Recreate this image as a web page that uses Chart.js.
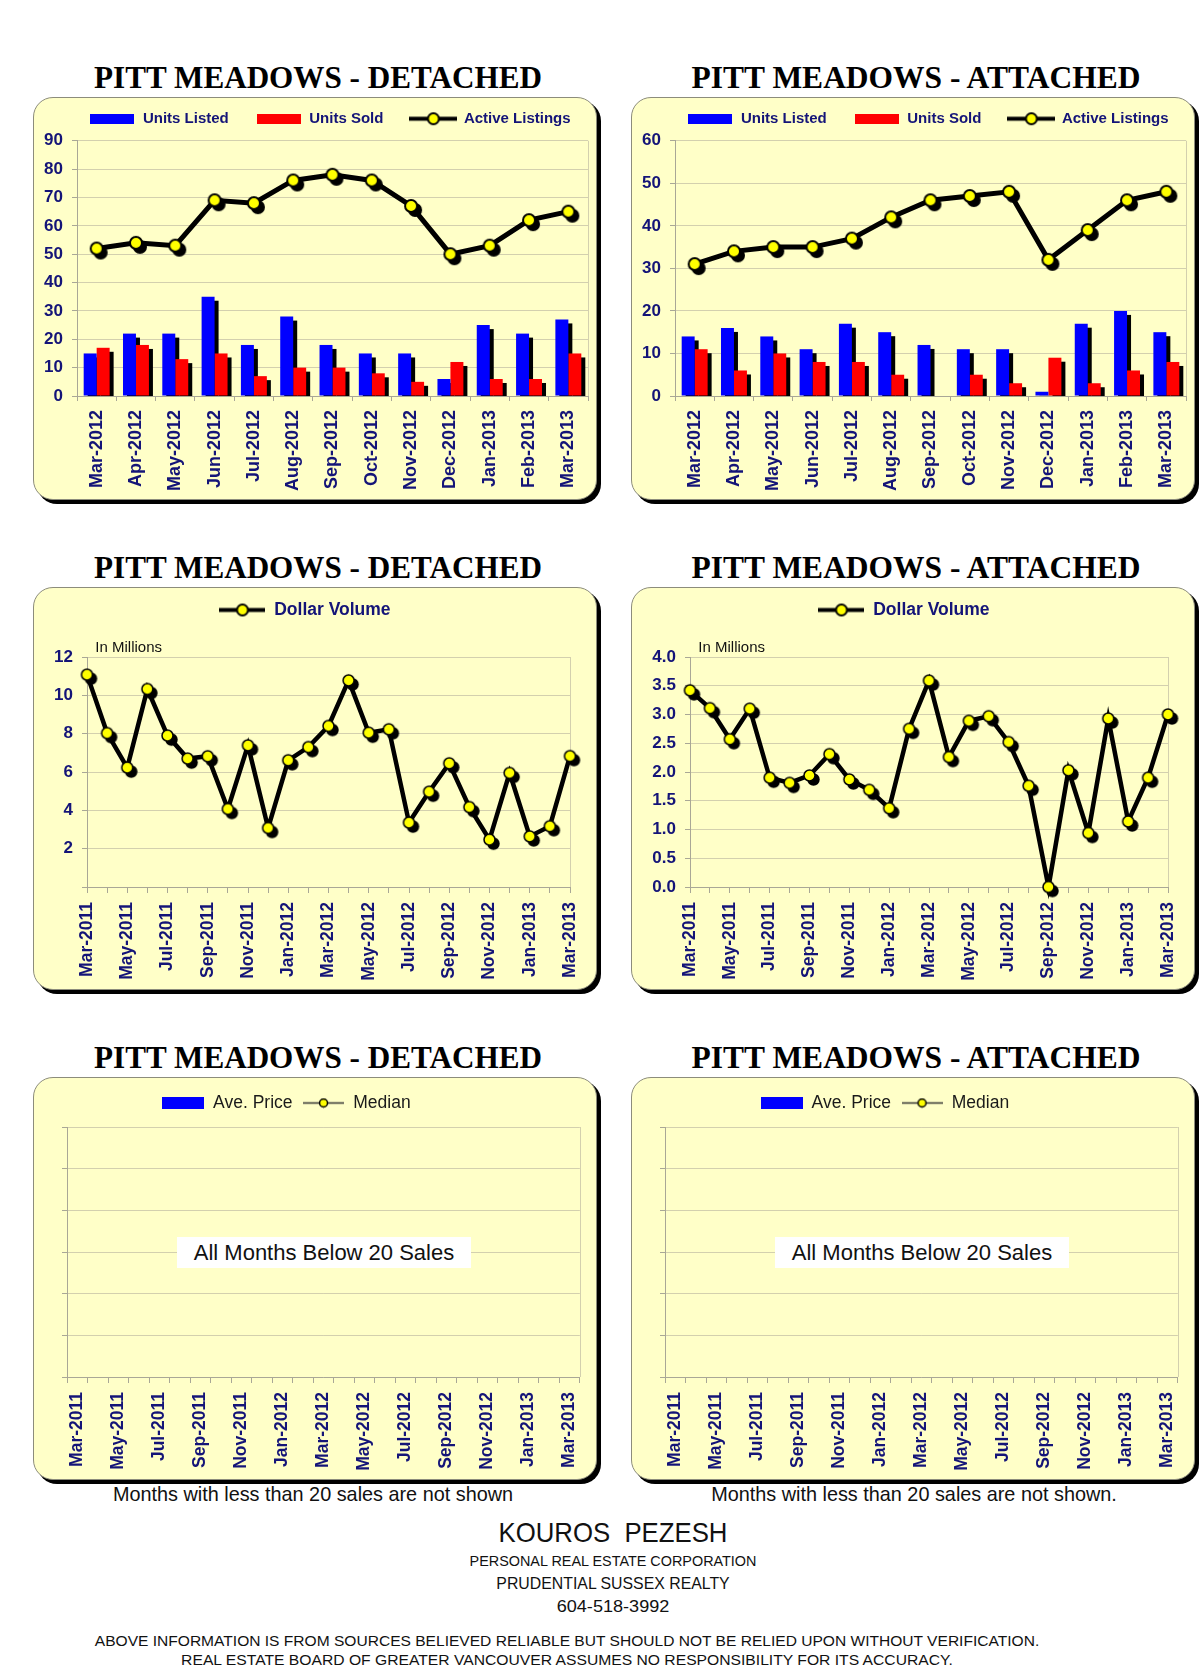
<!DOCTYPE html>
<html><head><meta charset="utf-8">
<script src="https://cdn.jsdelivr.net/npm/chart.js@4.4.1/dist/chart.umd.min.js"></script>
<style>
html,body{margin:0;padding:0;background:#fff;}
body{width:1200px;height:1673px;position:relative;overflow:hidden;font-family:"Liberation Sans",Arial,sans-serif;}
.panel{position:absolute;width:562px;height:401px;background:#FFFFC8;border:1px solid #8c8c7c;border-radius:20px;box-shadow:4px 4px 0 #000;z-index:0;}
canvas{position:absolute;z-index:1;}
.t{position:absolute;white-space:pre;line-height:1;transform:translate(-50%,-50%);}
.title{font-family:"Liberation Serif","Times New Roman",serif;font-weight:bold;font-size:31px;color:#000;}
.note{font-size:19.8px;color:#111;}
.box{position:absolute;width:294px;height:31px;background:#fff;font-size:22px;line-height:31px;text-align:center;color:#111;z-index:3;}
.foot{color:#111;}
</style></head><body>

<div class="t title" data-fit="448" style="left:318px;top:77px">PITT MEADOWS - DETACHED</div>
<div class="t title" data-fit="449" style="left:916px;top:77px">PITT MEADOWS - ATTACHED</div>
<div class="t title" data-fit="448" style="left:318px;top:567px">PITT MEADOWS - DETACHED</div>
<div class="t title" data-fit="449" style="left:916px;top:567px">PITT MEADOWS - ATTACHED</div>
<div class="t title" data-fit="448" style="left:318px;top:1057px">PITT MEADOWS - DETACHED</div>
<div class="t title" data-fit="449" style="left:916px;top:1057px">PITT MEADOWS - ATTACHED</div>

<div class="panel" style="left:33px;top:97px"></div>
<div class="panel" style="left:631px;top:97px"></div>
<div class="panel" style="left:33px;top:587px"></div>
<div class="panel" style="left:631px;top:587px"></div>
<div class="panel" style="left:33px;top:1077px"></div>
<div class="panel" style="left:631px;top:1077px"></div>

<canvas id="c1" width="568" height="406" style="left:32px;top:96px"></canvas>
<canvas id="c2" width="568" height="406" style="left:630px;top:96px"></canvas>
<canvas id="c3" width="568" height="406" style="left:32px;top:586px"></canvas>
<canvas id="c4" width="568" height="406" style="left:630px;top:586px"></canvas>
<canvas id="c5" width="568" height="406" style="left:32px;top:1076px"></canvas>
<canvas id="c6" width="568" height="406" style="left:630px;top:1076px"></canvas>

<div class="box" style="left:177px;top:1237px">All Months Below 20 Sales</div>
<div class="box" style="left:775px;top:1237px">All Months Below 20 Sales</div>

<div class="t note" data-fit="400" style="left:313px;top:1495px">Months with less than 20 sales are not shown</div>
<div class="t note" data-fit="406" style="left:914px;top:1495px">Months with less than 20 sales are not shown.</div>

<div class="t foot" data-fit="229" style="left:613px;top:1533px;font-size:28px">KOUROS  PEZESH</div>
<div class="t foot" data-fit="287" style="left:613px;top:1560px;font-size:15px">PERSONAL REAL ESTATE CORPORATION</div>
<div class="t foot" data-fit="233" style="left:613px;top:1583px;font-size:17px">PRUDENTIAL SUSSEX REALTY</div>
<div class="t foot" data-fit="113" style="left:613px;top:1607px;font-size:16px">604-518-3992</div>
<div class="t foot" data-fit="944" style="left:567px;top:1640px;font-size:15px">ABOVE INFORMATION IS FROM SOURCES BELIEVED RELIABLE BUT SHOULD NOT BE RELIED UPON WITHOUT VERIFICATION.</div>
<div class="t foot" data-fit="772" style="left:567px;top:1659px;font-size:15px">REAL ESTATE BOARD OF GREATER VANCOUVER ASSUMES NO RESPONSIBILITY FOR ITS ACCURACY.</div>

<script>
// ---------------- DATA ----------------
const unitMonths = ['Mar-2012','Apr-2012','May-2012','Jun-2012','Jul-2012','Aug-2012','Sep-2012','Oct-2012','Nov-2012','Dec-2012','Jan-2013','Feb-2013','Mar-2013'];
const detListed = [15, 22, 22, 35, 18, 28, 18, 15, 15, 6, 25, 22, 27];
const detSold   = [17, 18, 13, 15, 7, 10, 10, 8, 5, 12, 6, 6, 15];
const detActive = [52, 54, 53, 69, 68, 76, 78, 76, 67, 50, 53, 62, 65];
const attListed = [14, 16, 14, 11, 17, 15, 12, 11, 11, 1, 17, 20, 15];
const attSold   = [11, 6, 10, 8, 8, 5, 0, 5, 3, 9, 3, 6, 8];
const attActive = [31, 34, 35, 35, 37, 42, 46, 47, 48, 32, 39, 46, 48];

const volumeMonths = ['Mar-2011','Apr-2011','May-2011','Jun-2011','Jul-2011','Aug-2011','Sep-2011','Oct-2011','Nov-2011','Dec-2011',
  'Jan-2012','Feb-2012','Mar-2012','Apr-2012','May-2012','Jun-2012','Jul-2012','Aug-2012','Sep-2012','Oct-2012','Nov-2012','Dec-2012',
  'Jan-2013','Feb-2013','Mar-2013'];
const detVolume = [11.08, 8.03, 6.23, 10.33, 7.9, 6.7, 6.82, 4.07, 7.39, 3.08, 6.61, 7.3, 8.4, 10.78, 8.05, 8.23, 3.36, 4.97, 6.45, 4.17, 2.47, 5.95, 2.64, 3.17, 6.83];
const attVolume = [3.42, 3.11, 2.57, 3.1, 1.9, 1.81, 1.94, 2.31, 1.87, 1.69, 1.37, 2.75, 3.59, 2.26, 2.89, 2.97, 2.52, 1.76, 0.0, 2.03, 0.94, 2.93, 1.14, 1.9, 3.0];

// Price charts: every month below 20 sales, so nothing is plotted
const detAvePrice = [];
const detMedian = [];
const attAvePrice = [];
const attMedian = [];

const unitsTicksDet = [0, 90, 10];
const unitsTicksAtt = [0, 60, 10];
const volTicksDet = [0, 12, 2];
const volTicksAtt = [0, 4, 0.5];

// ---------------- STYLE ----------------
const NAVY = '#141478';
const GRID = '#D3D0AE';
const AXIS = '#A9A796';
const FONT = "'Liberation Sans', Arial, sans-serif";

function rectIcon(color, w, h) {
  const c = document.createElement('canvas'); c.width = w; c.height = h;
  const x = c.getContext('2d'); x.fillStyle = color; x.fillRect(0, 0, w, h); return c;
}
function lineIcon(w, h, lw, r, bw, lineColor) {
  const c = document.createElement('canvas'); c.width = w; c.height = h;
  const x = c.getContext('2d');
  x.strokeStyle = lineColor; x.lineWidth = lw;
  x.beginPath(); x.moveTo(0, h / 2); x.lineTo(w, h / 2); x.stroke();
  x.beginPath(); x.arc(w / 2, h / 2, r, 0, Math.PI * 2);
  x.fillStyle = '#FFFF00'; x.fill(); x.lineWidth = bw; x.strokeStyle = '#000'; x.stroke();
  return c;
}
// marker with its dark drop shadow
function shadowDot(r, bw, off) {
  const s = Math.ceil(2 * (r + bw / 2 + off) + 2);
  const c = document.createElement('canvas'); c.width = s; c.height = s;
  const x = c.getContext('2d'); const m = s / 2;
  x.fillStyle = '#000'; x.beginPath(); x.arc(m + off, m + off, r + bw / 2, 0, Math.PI * 2); x.fill();
  x.beginPath(); x.arc(m, m, r, 0, Math.PI * 2);
  x.fillStyle = '#FFFF00'; x.fill(); x.lineWidth = bw; x.strokeStyle = '#000'; x.stroke();
  return c;
}

const framePlugin = {
  id: 'frame',
  afterLayout(chart, args, opts) {
    if (opts.legendDx && chart.legend) { chart.legend.left += opts.legendDx; chart.legend.right += opts.legendDx; }
  },
  beforeDatasetsDraw(chart, args, opts) {
    const ctx = chart.ctx, a = chart.chartArea;
    ctx.save();
    ctx.strokeStyle = GRID; ctx.lineWidth = 1;
    const xr = Math.round(a.right) + 0.5;
    ctx.beginPath(); ctx.moveTo(xr, a.top); ctx.lineTo(xr, a.bottom); ctx.stroke();
    ctx.restore();
    if (opts.barShadow) {
      const off = opts.barShadow;
      ctx.save();
      ctx.beginPath(); ctx.rect(a.left, a.top - 30, a.width + 30, a.height + 30); ctx.clip();
      ctx.fillStyle = '#000';
      chart.getSortedVisibleDatasetMetas().forEach(meta => {
        if (meta.type !== 'bar') return;
        meta.data.forEach(el => {
          const p = el.getProps(['x', 'y', 'base', 'width'], true);
          const top = Math.min(p.y, p.base), h = Math.abs(p.base - p.y);
          if (h > 0.5) ctx.fillRect(p.x - p.width / 2 + off, top + off, p.width, h);
        });
      });
      ctx.restore();
    }
  }
};

function legendCfg(icons, o) {
  return {
    display: true, position: 'top', align: 'center',
    labels: {
      usePointStyle: true, pointStyleWidth: o.boxW, padding: o.pad, color: o.color,
      font: { family: FONT, size: o.size, weight: o.weight },
      sort: (a, b) => a.datasetIndex - b.datasetIndex,
      generateLabels(chart) {
        const items = Chart.defaults.plugins.legend.labels.generateLabels(chart);
        items.forEach(it => { it.pointStyle = icons[it.datasetIndex]; it.rotation = 0; });
        return items;
      }
    }
  };
}

function xAxis(o) {
  return {
    type: 'category', offset: o.offset,
    grid: { display: true, drawOnChartArea: false, drawTicks: true, tickLength: o.tickLength, color: AXIS, offset: o.offset },
    border: { display: true, color: AXIS },
    ticks: {
      autoSkip: false, minRotation: 90, maxRotation: 90, padding: o.padding, color: NAVY,
      font: { family: FONT, size: o.size, weight: 'bold' },
      callback: o.everyOther ? function (v, i) { return i % 2 === 0 ? this.getLabelForValue(v) : ''; }
                             : function (v) { return this.getLabelForValue(v); }
    },
    afterFit: s => { s.height = o.height; }
  };
}
// empty top axis used only as a gap between the legend and the plot
function spacerAxis(h) {
  return {
    type: 'category', position: 'top', display: true,
    grid: { display: false }, border: { display: false }, ticks: { display: false },
    afterFit: s => { s.height = h; }
  };
}

function yAxis(t, o) {
  return {
    min: t[0], max: t[1],
    grid: { color: GRID, tickColor: AXIS, tickLength: 5, drawTicks: true },
    border: { display: true, color: AXIS },
    ticks: {
      display: o.show !== false, stepSize: t[2], padding: 9, color: NAVY,
      font: { family: FONT, size: 17, weight: 'bold' },
      callback: o.callback || (v => v)
    },
    afterFit: s => { s.width = o.width; }
  };
}

const barClip = { left: false, right: false, top: false, bottom: 0 };

function unitsChart(id, listed, sold, active, ticks) {
  const icons = [rectIcon('#0000FF', 44, 10), rectIcon('#FF0000', 44, 10), lineIcon(48, 15, 4, 5.5, 2, '#000')];
  new Chart(document.getElementById(id), {
    type: 'bar',
    data: {
      labels: unitMonths,
      datasets: [
        { label: 'Units Listed', data: listed, backgroundColor: '#0000FF', order: 2, categoryPercentage: 0.66, barPercentage: 1, clip: barClip, xAxisID: 'x', yAxisID: 'y' },
        { label: 'Units Sold', data: sold, backgroundColor: '#FF0000', order: 3, categoryPercentage: 0.66, barPercentage: 1, clip: barClip, xAxisID: 'x', yAxisID: 'y' },
        { type: 'line', label: 'Active Listings', data: active, borderColor: '#000', borderWidth: 5, tension: 0,
          pointStyle: shadowDot(6, 2, 4), pointRadius: 7, order: 1, clip: false, xAxisID: 'x', yAxisID: 'y' }
      ]
    },
    options: {
      responsive: false, animation: false, events: [],
      layout: { padding: { top: -11.75, left: 0, right: 9, bottom: 0 } },
      plugins: {
        legend: legendCfg(icons, { boxW: 46, pad: 27, color: NAVY, size: 15, weight: 'bold' }),
        tooltip: { enabled: false },
        frame: { legendDx: 18.5, barShadow: 4 }
      },
      scales: {
        x: xAxis({ offset: true, tickLength: 5, padding: 9, size: 18, height: 106, everyOther: false }),
        gap: spacerAxis(4.5),
        y: yAxis(ticks, { width: 45 })
      }
    },
    plugins: [framePlugin]
  });
}

function volumeChart(id, values, ticks, yWidth, padRight, dx, cb) {
  const icons = [lineIcon(46, 15, 4, 5.5, 2, '#000')];
  new Chart(document.getElementById(id), {
    type: 'line',
    data: {
      labels: volumeMonths,
      datasets: [
        { label: 'Dollar Volume', data: values, borderColor: '#000', borderWidth: 4.5, tension: 0,
          pointStyle: shadowDot(5.5, 1.5, 4), pointRadius: 6, clip: false }
      ]
    },
    options: {
      responsive: false, animation: false, events: [],
      layout: { padding: { top: 6, left: 0, right: padRight, bottom: 0 } },
      plugins: {
        legend: legendCfg(icons, { boxW: 46, pad: 9.25, color: NAVY, size: 17.5, weight: 'bold' }),
        subtitle: { display: true, text: '  In Millions', position: 'top', align: 'start', fullSize: false, weight: 500,
          color: '#111', font: { family: FONT, size: 15, weight: 'normal', lineHeight: 1.2 }, padding: { top: 9.75, bottom: 0.5 } },
        tooltip: { enabled: false },
        frame: { legendDx: dx, barShadow: 0 }
      },
      scales: {
        x: xAxis({ offset: false, tickLength: 6, padding: 9, size: 17.5, height: 105, everyOther: true }),
        y: yAxis(ticks, { width: yWidth, callback: cb })
      }
    },
    plugins: [framePlugin]
  });
}

function priceChart(id, ave, median, dx) {
  const icons = [rectIcon('#0000FF', 42, 12), lineIcon(41, 11, 1.5, 4, 1.5, '#333')];
  new Chart(document.getElementById(id), {
    type: 'bar',
    data: {
      labels: volumeMonths,
      datasets: [
        { label: 'Ave. Price', data: ave, backgroundColor: '#0000FF', xAxisID: 'x', yAxisID: 'y' },
        { type: 'line', label: 'Median', data: median, borderColor: '#333', borderWidth: 1.5, pointBackgroundColor: '#FFFF00', pointBorderColor: '#000', xAxisID: 'x', yAxisID: 'y' }
      ]
    },
    options: {
      responsive: false, animation: false, events: [],
      layout: { padding: { top: 8.25, left: 0, right: 14, bottom: 0 } },
      plugins: {
        legend: legendCfg(icons, { boxW: 42, pad: 10, color: '#1a1a1a', size: 17.5, weight: 'normal' }),
        tooltip: { enabled: false },
        frame: { legendDx: dx, barShadow: 0 }
      },
      scales: {
        x: xAxis({ offset: true, tickLength: 6, padding: 9, size: 17.5, height: 105, everyOther: true }),
        gap: spacerAxis(5.25),
        y: yAxis([0, 6, 1], { width: 35, show: false })
      }
    },
    plugins: [framePlugin]
  });
}

unitsChart('c1', detListed, detSold, detActive, unitsTicksDet);
unitsChart('c2', attListed, attSold, attActive, unitsTicksAtt);
volumeChart('c3', detVolume, volTicksDet, 55, 26, 2, v => (v === 0 ? '' : v));
volumeChart('c4', attVolume, volTicksAtt, 60, 26, 3, v => v.toFixed(1));
priceChart('c5', detAvePrice, detMedian, -22.5);
priceChart('c6', attAvePrice, attMedian, -22);

document.querySelectorAll('[data-fit]').forEach(el => {
  const w = el.offsetWidth;
  const k = parseFloat(el.dataset.fit) / w;
  el.style.transform = 'translate(-50%,-50%) scaleX(' + k + ')';
});
</script>
</body></html>
